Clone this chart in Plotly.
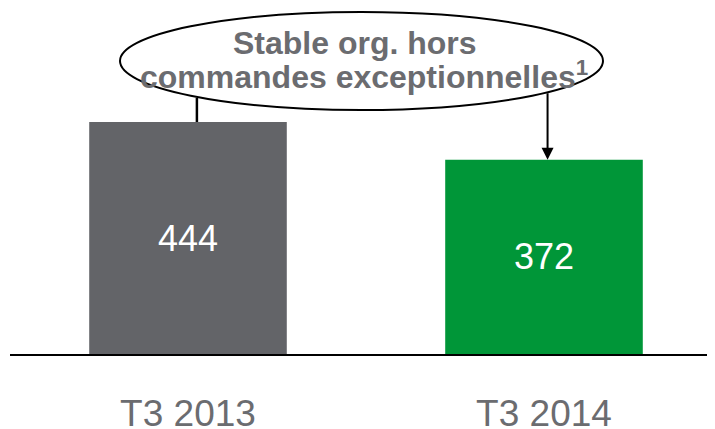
import plotly.graph_objects as go

categories = ["T3 2013", "T3 2014"]
values = [444, 372]
bar_colors = ["#636468", "#009638"]
callout_line1 = "Stable org. hors"
callout_line2 = "commandes exceptionnelles<sup>1</sup>"

W, H = 715, 429
OFF = 8  # page body margin offset
# target screen geometry: axis from x=10 to right edge, baseline at y=354
L = 10 - OFF
R = 0
T = 0
B = H - (354 - OFF)
pw = W - L - R
ph = H - T - B
xr = [-0.5, -0.5 + pw / 356.0]
yr = [0, ph / 0.5225]

fig = go.Figure()
fig.add_trace(go.Bar(
    x=[0, 1], y=values, width=0.555,
    marker=dict(color=bar_colors, line=dict(width=0)),
    text=[str(v) for v in values], textposition="inside",
    insidetextanchor="middle",
    textfont=dict(color="white", size=36, family="Liberation Sans, Arial"),
    hoverinfo="skip",
))

def px2xp(px):
    return (px - OFF - L) / pw
def py2yp(py):
    return (H - B - (py - OFF)) / ph

# ellipse callout
fig.add_shape(type="circle", xref="paper", yref="paper",
              x0=px2xp(120), x1=px2xp(603), y0=py2yp(110), y1=py2yp(12),
              line=dict(color="black", width=2), fillcolor="rgba(0,0,0,0)", layer="above")
# connector from ellipse to first bar
fig.add_shape(type="line", xref="x", yref="y",
              x0=0.025, x1=0.025, y0=values[0], y1=py2yp(98) * yr[1],
              line=dict(color="black", width=2.5))
# arrow to second bar
fig.add_annotation(x=1.01, y=values[1], xref="x", yref="y", text="",
                   showarrow=True, arrowhead=2, arrowsize=1.2, arrowwidth=2,
                   arrowcolor="black", ax=0, ay=-68, axref="pixel", ayref="pixel")

fig.add_annotation(x=px2xp(355), y=py2yp(43), xref="paper", yref="paper",
                   text="<b>" + callout_line1 + "</b>", showarrow=False,
                   font=dict(size=32, color="#6b6c70", family="Liberation Sans, Arial"),
                   xanchor="center", yanchor="middle")
fig.add_annotation(x=px2xp(364), y=py2yp(75), xref="paper", yref="paper",
                   text="<b>" + callout_line2 + "</b>", showarrow=False,
                   font=dict(size=32, color="#6b6c70", family="Liberation Sans, Arial"),
                   xanchor="center", yanchor="middle")

fig.update_layout(
    width=W, height=H, margin=dict(l=L, r=R, t=T, b=B, pad=0, autoexpand=False),
    plot_bgcolor="white", paper_bgcolor="white", showlegend=False,
    xaxis=dict(range=xr, tickvals=[0, 1], ticktext=categories, automargin=False,
               showgrid=False, zeroline=False, showline=True,
               linecolor="black", linewidth=2,
               ticks="outside", ticklen=26, tickcolor="rgba(0,0,0,0)",
               tickfont=dict(size=37, color="#6b6c70", family="Liberation Sans, Arial")),
    yaxis=dict(range=yr, visible=False, showgrid=False, zeroline=False, automargin=False),
)

fig.write_html("out.html")
